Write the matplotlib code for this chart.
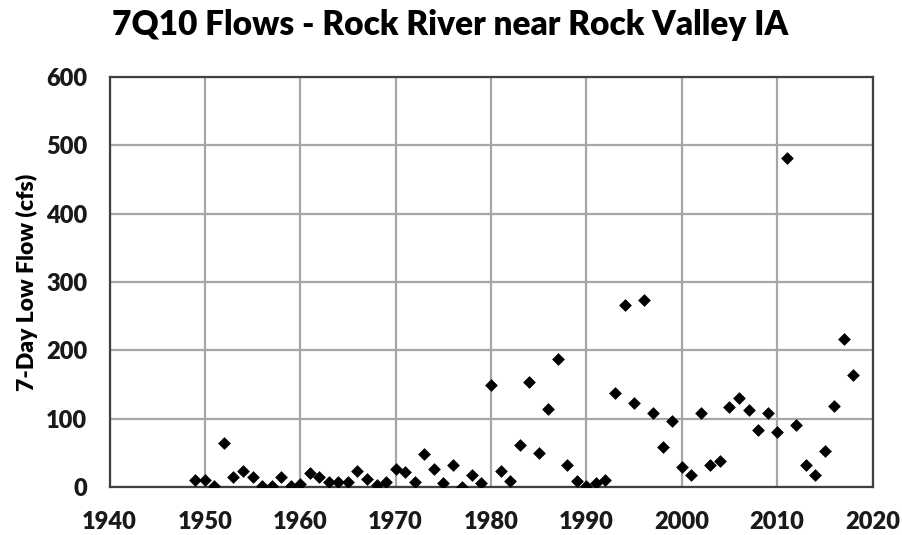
import matplotlib
matplotlib.use("Agg")
import matplotlib.pyplot as plt

years = [1949, 1950, 1951, 1952, 1953, 1954, 1955, 1956, 1957, 1958, 1959,
         1960, 1961, 1962, 1963, 1964, 1965, 1966, 1967, 1968, 1969,
         1970, 1971, 1972, 1973, 1974, 1975, 1976, 1977, 1978, 1979,
         1980, 1981, 1982, 1983, 1984, 1985, 1986, 1987, 1988, 1989,
         1990, 1991, 1992, 1993, 1994, 1995, 1996, 1997, 1998, 1999,
         2000, 2001, 2002, 2003, 2004, 2005, 2006, 2007, 2008, 2009,
         2010, 2011, 2012, 2013, 2014, 2015, 2016, 2017, 2018]
flows = [10, 10, 2, 65, 15, 24, 15, 1, 1, 15, 1,
         5, 20, 15, 7, 7, 7, 24, 11, 3, 7,
         27, 22, 7, 48, 27, 6, 32, 0, 18, 6,
         150, 24, 9, 61, 153, 50, 114, 188, 32, 9,
         2, 6, 10, 138, 267, 123, 273, 109, 59, 97,
         29, 17, 109, 32, 38, 117, 130, 112, 84, 108,
         81, 482, 91, 32, 17, 52, 118, 217, 164]

x_ticks = [1940, 1950, 1960, 1970, 1980, 1990, 2000, 2010, 2020]
y_ticks = [0, 100, 200, 300, 400, 500, 600]

title = "7Q10 Flows - Rock River near Rock Valley IA"
ylabel = "7-Day Low Flow (cfs)"

plt.rcParams['font.family'] = ['Lato', 'DejaVu Sans']

fig = plt.figure(figsize=(9.02, 5.35), dpi=100)
ax = fig.add_axes([109.5/902, 1-487/535, (872.5-109.5)/902, (487-77)/535])

ax.scatter(years, flows, marker='D', s=6.5**2, color='black', zorder=3, linewidths=0)

ax.set_xlim(1940, 2020)
ax.set_ylim(0, 600)
ax.set_xticks(x_ticks)
ax.set_yticks(y_ticks)
ax.grid(True, color='#a6a6a6', linewidth=1.6)
ax.set_axisbelow(True)
for s in ax.spines.values():
    s.set_color('#404040')
    s.set_linewidth(1.6)
ax.tick_params(length=0, labelsize=17, colors='#1a1a1a')
ax.tick_params(axis='x', pad=17)
ax.tick_params(axis='y', pad=16)
for lab in ax.get_xticklabels() + ax.get_yticklabels():
    lab.set_fontweight('heavy')
ax.set_ylabel(ylabel, fontsize=16.5, fontweight='heavy', labelpad=6)

fig.text(450/902, 1-25/535, title, ha='center', va='center', fontsize=24, fontweight='heavy')

fig.savefig("out.png", dpi=100)
